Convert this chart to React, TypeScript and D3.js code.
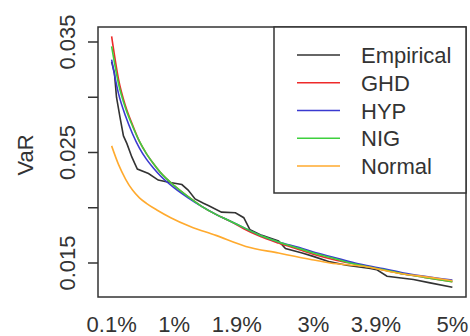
import React from "react";
import * as d3 from "d3";

// VaR levels (in %) and the values
const fitLevels = [0.1, 0.2, 0.3, 0.4, 0.5, 0.6, 0.7, 0.8, 1.0, 1.2, 1.4, 1.6, 1.8, 2.0, 2.2, 2.5, 2.8, 3.0, 3.3, 3.6, 4.0, 4.3, 4.6, 5.0];
const ghdValues = [0.0355, 0.0316, 0.0292, 0.0275, 0.0260, 0.0249, 0.0240, 0.0232, 0.0220, 0.0210, 0.0201, 0.0194, 0.0188, 0.0181, 0.0175, 0.0168, 0.0162, 0.0158, 0.0153, 0.0149, 0.0144, 0.0140, 0.0137, 0.0133];
const hypValues = [0.0334, 0.0303, 0.0283, 0.0267, 0.0254, 0.0244, 0.0236, 0.0229, 0.0218, 0.0209, 0.0201, 0.0194, 0.0188, 0.0182, 0.0176, 0.0169, 0.0164, 0.0160, 0.0155, 0.0150, 0.0145, 0.0141, 0.0138, 0.01345];
const nigValues = [0.0346, 0.0312, 0.0290, 0.0274, 0.0260, 0.0249, 0.0240, 0.0232, 0.0220, 0.0210, 0.0201, 0.0194, 0.0188, 0.0182, 0.0176, 0.0169, 0.0163, 0.0159, 0.0154, 0.0149, 0.0144, 0.0140, 0.0137, 0.0133];

const empLevels = [0.1, 0.14, 0.17, 0.22, 0.27, 0.32, 0.39, 0.44, 0.47, 0.63, 0.77, 0.92, 1.11, 1.2, 1.3, 1.42, 1.49, 1.68, 1.88, 2.0, 2.09, 2.26, 2.5, 2.6, 2.84, 3.0, 3.24, 3.48, 3.82, 3.91, 4.06, 4.44, 4.68, 5.0];
const empValues = [0.0332, 0.0322, 0.0300, 0.0282, 0.0265, 0.0258, 0.0246, 0.0239, 0.0235, 0.0231, 0.0225, 0.0223, 0.0221, 0.0216, 0.0208, 0.0204, 0.0202, 0.0196, 0.01955, 0.0191, 0.0180, 0.0175, 0.0170, 0.0163, 0.0159, 0.0156, 0.0151, 0.0148, 0.0145, 0.0144, 0.0138, 0.0135, 0.0132, 0.0128];

const normLevels = [0.1, 0.2, 0.3, 0.4, 0.5, 0.6, 0.75, 0.95, 1.23, 1.6, 2.03, 2.5, 2.98, 3.24, 3.72, 4.2, 4.68, 5.0];
const normValues = [0.0256, 0.0239, 0.0226, 0.0216, 0.0209, 0.0204, 0.0198, 0.0191, 0.0183, 0.0175, 0.0165, 0.0159, 0.0153, 0.0150, 0.0147, 0.0141, 0.0137, 0.0134];

const seriesNames = ["Empirical", "GHD", "HYP", "NIG", "Normal"];
const seriesColors = ["#333333", "#ee2a2a", "#3a3ad0", "#3ed03e", "#ffaa2e"];

const xTicks = [0.1, 1, 1.9, 3, 3.9, 5];
const xTickLabels = ["0.1%", "1%", "1.9%", "3%", "3.9%", "5%"];
const yTicks = [0.015, 0.02, 0.025, 0.03, 0.035];
const yTickLabels = ["0.015", "", "0.025", "", "0.035"];

const W = 470;
const H = 336;
const box = { left: 98, right: 466, top: 27, bottom: 297 };
const font = "'Liberation Sans', Arial, sans-serif";

export default function App() {
  const x = d3.scaleLinear().domain([0.1 - 0.196, 5 + 0.196]).range([box.left, box.right]);
  const y = d3.scaleLinear().domain([0.011923, 0.036357]).range([box.bottom, box.top]);

  // empirical curve is drawn straight, the fitted ones smoothed
  const rough = d3
    .line<[number, number]>()
    .x((d) => x(d[0]))
    .y((d) => y(d[1]));
  const smooth = d3
    .line<[number, number]>()
    .x((d) => x(d[0]))
    .y((d) => y(d[1]))
    .curve(d3.curveMonotoneX);

  const zip = (a: number[], b: number[]) => a.map((v, i) => [v, b[i]] as [number, number]);
  const series = [
    zip(empLevels, empValues),
    zip(fitLevels, ghdValues),
    zip(fitLevels, hypValues),
    zip(fitLevels, nigValues),
    zip(normLevels, normValues),
  ];

  const legend = { left: 274, top: box.top, right: box.right, bottom: 193 };
  const rowY = d3.scaleLinear().domain([0, 4]).range([55, 166]);

  return (
    <svg
      width={W}
      height={H}
      style={{ position: "absolute", left: 0, top: 0, background: "#fff" }}
      fontFamily={font}
    >
      {series.map((pts, i) => (
        <path
          key={i}
          d={(i === 0 ? rough(pts) : smooth(pts)) || ""}
          fill="none"
          stroke={seriesColors[i]}
          strokeWidth={1.6}
        />
      ))}

      {/* plot frame */}
      <rect
        x={box.left}
        y={box.top}
        width={box.right - box.left}
        height={box.bottom - box.top}
        fill="none"
        stroke="#333"
        strokeWidth={1.5}
      />

      {/* y axis */}
      {yTicks.map((t, i) => (
        <g key={t}>
          <line x1={box.left - 10} x2={box.left} y1={y(t)} y2={y(t)} stroke="#333" strokeWidth={1.5} />
          {yTickLabels[i] && (
            <text
              transform={`translate(75,${y(t)}) rotate(-90)`}
              textAnchor="middle"
              fontSize={22}
              fill="#333"
            >
              {yTickLabels[i]}
            </text>
          )}
        </g>
      ))}
      <text transform="translate(33,155) rotate(-90)" textAnchor="middle" fontSize={22} fill="#333">
        VaR
      </text>

      {/* x labels */}
      {xTicks.map((t, i) => (
        <text key={t} x={x(t)} y={332} textAnchor="middle" fontSize={22} fill="#333">
          {xTickLabels[i]}
        </text>
      ))}

      {/* legend */}
      <rect
        x={legend.left}
        y={legend.top}
        width={legend.right - legend.left}
        height={legend.bottom - legend.top}
        fill="#fff"
        stroke="#333"
        strokeWidth={1.5}
      />
      {seriesNames.map((name, i) => (
        <g key={name}>
          <line x1={297} x2={340} y1={rowY(i)} y2={rowY(i)} stroke={seriesColors[i]} strokeWidth={1.6} />
          <text x={361} y={rowY(i) + 8} fontSize={22} fill="#333">
            {name}
          </text>
        </g>
      ))}
    </svg>
  );
}
